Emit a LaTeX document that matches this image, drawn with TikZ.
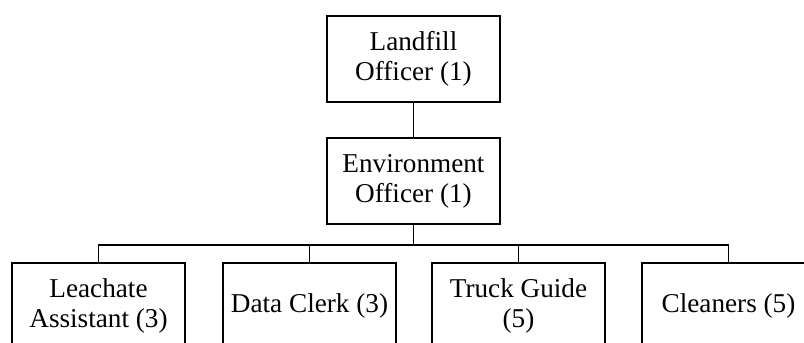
\documentclass[tikz,border=0pt]{standalone}
\usepackage{fontspec}
\setmainfont{Liberation Serif}
\usepackage{tikz}

\begin{document}
\begin{tikzpicture}[x=0.75pt, y=-0.75pt, line width=0.95pt,
  post/.style={draw, rectangle, align=center, inner sep=0pt,
    minimum width=173*0.75pt, minimum height=86*0.75pt,
    font=\fontsize{20.4}{22.5}\selectfont}]
\clip (0, 0) rectangle (804, 343);
\useasboundingbox (0, 0) rectangle (804, 343);
\node [post] (landfill) at (413.5, 59) {Landfill\\Officer (1)};
\node [post] (env) at (413.5, 181) {Environment\\Officer (1)};
\node [post] (leach) at (98.5, 306) {Leachate\\Assistant (3)};
\node [post] (clerk) at (309.5, 306) {Data Clerk (3)};
\node [post] (truck) at (518.5, 306) {Truck Guide\\(5)};
\node [post] (clean) at (728.5, 306) {Cleaners (5)};
\coordinate (bus) at (413.5, 245);
\draw (landfill) -- (env);
\draw (env) -- (bus);
\draw (bus) -| (leach);
\draw (bus) -| (clerk);
\draw (bus) -| (truck);
\draw (bus) -| (clean);
\end{tikzpicture}
\end{document}
